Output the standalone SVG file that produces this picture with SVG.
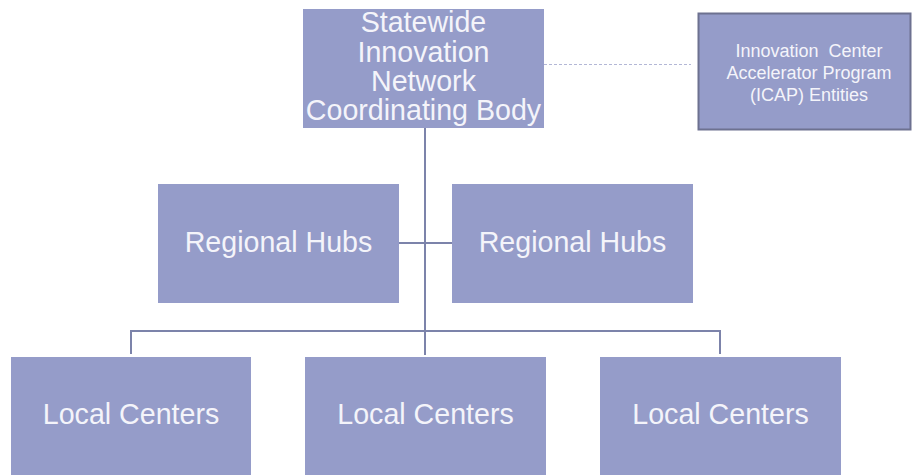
<svg xmlns="http://www.w3.org/2000/svg" width="912" height="475" viewBox="0 0 912 475">
  <style>
    .box { fill: #959cc9; }
    .box-outlined { fill: #959cc9; stroke: #6d7190; stroke-width: 2; }
    .label { font-family: "Liberation Sans", Arial, sans-serif; fill: #f4f4fa; text-anchor: middle; }
    .big { font-size: 28.6px; }
    .small { font-size: 18px; }
    .link { fill: none; stroke: #7c83aa; stroke-width: 2; }
    .dashed { fill: none; stroke: #b3b7d6; stroke-width: 1; stroke-dasharray: 3 2; }
  </style>
  <rect width="912" height="475" fill="#ffffff"/>

  <!-- connectors -->
  <g id="connectors">
    <line class="link" x1="425" y1="128" x2="425" y2="355"/>
    <line class="link" x1="399" y1="243" x2="452" y2="243"/>
    <polyline class="link" points="131,354 131,331 720,331 720,354"/>
    <line class="dashed" x1="544" y1="64.5" x2="691" y2="64.5"/>
  </g>

  <!-- top level -->
  <g id="coordinating-body">
    <rect class="box" x="303" y="9" width="241" height="119"/>
    <text class="label big" x="423.5" y="32">Statewide</text>
    <text class="label big" x="423.5" y="61.5">Innovation</text>
    <text class="label big" x="423.5" y="91">Network</text>
    <text class="label big" x="423.5" y="120">Coordinating Body</text>
  </g>

  <g id="icap-entities">
    <rect class="box-outlined" x="698.5" y="13.5" width="212" height="116"/>
    <text class="label small" x="809" y="57">Innovation&#160; Center</text>
    <text class="label small" x="809" y="79">Accelerator Program</text>
    <text class="label small" x="809" y="100.5">(ICAP) Entities</text>
  </g>

  <!-- regional level -->
  <g id="regional-hubs-left">
    <rect class="box" x="158" y="184" width="241" height="119"/>
    <text class="label big" x="278.5" y="252">Regional Hubs</text>
  </g>
  <g id="regional-hubs-right">
    <rect class="box" x="452" y="184" width="241" height="119"/>
    <text class="label big" x="572.5" y="252">Regional Hubs</text>
  </g>

  <!-- local level -->
  <g id="local-centers-1">
    <rect class="box" x="11" y="357" width="240" height="118"/>
    <text class="label big" x="131" y="424">Local Centers</text>
  </g>
  <g id="local-centers-2">
    <rect class="box" x="305" y="357" width="241" height="118"/>
    <text class="label big" x="425.5" y="424">Local Centers</text>
  </g>
  <g id="local-centers-3">
    <rect class="box" x="600" y="357" width="241" height="118"/>
    <text class="label big" x="720.5" y="424">Local Centers</text>
  </g>
</svg>
